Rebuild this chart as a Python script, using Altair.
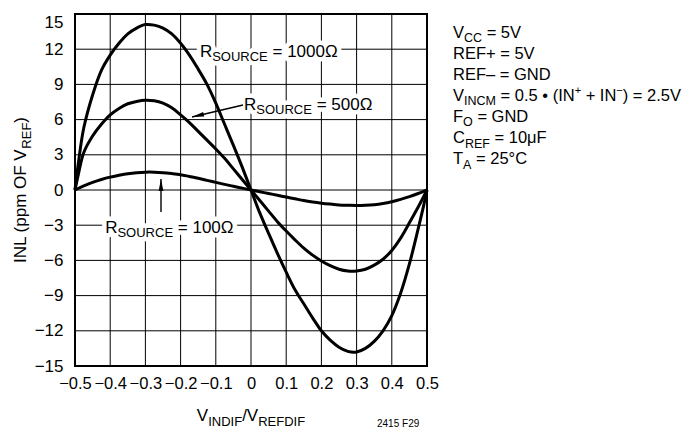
import altair as alt
import pandas as pd

FONT = "Liberation Sans"

# ---------------- data ----------------
x_vals = [-0.5, -0.49, -0.475, -0.45, -0.425, -0.4, -0.375, -0.35, -0.325, -0.3,
          -0.275, -0.25, -0.225, -0.2, -0.175, -0.15, -0.125, -0.1, -0.075, -0.05,
          -0.025, 0.0, 0.025, 0.05, 0.075, 0.1, 0.125, 0.15, 0.175, 0.2, 0.225,
          0.25, 0.275, 0.3, 0.325, 0.35, 0.375, 0.4, 0.425, 0.45, 0.475, 0.49, 0.5]

inl_1000 = [0, 2.4, 5.3, 8.1, 10.2, 11.5, 12.5, 13.3, 13.8, 14.1, 14.05, 13.8, 13.3,
            12.5, 11.5, 10.3, 9.0, 7.4, 5.6, 3.8, 1.95, 0,
            -1.95, -3.7, -5.4, -7.0, -8.5, -9.7, -10.9, -12.0, -12.8, -13.4, -13.75,
            -13.8, -13.5, -12.9, -12.0, -10.7, -8.8, -6.3, -3.3, -1.4, 0]

inl_500 = [0, 1.4, 3.2, 4.6, 5.6, 6.4, 6.95, 7.35, 7.55, 7.65, 7.6, 7.4, 7.0, 6.4,
           5.75, 5.0, 4.25, 3.5, 2.7, 1.8, 0.9, 0,
           -0.9, -1.8, -2.7, -3.5, -4.25, -4.95, -5.55, -6.05, -6.45, -6.75, -6.9,
           -6.9, -6.75, -6.4, -5.9, -5.15, -4.1, -2.8, -1.45, -0.6, 0]

inl_100 = [0, 0.15, 0.35, 0.65, 0.9, 1.1, 1.25, 1.38, 1.47, 1.52, 1.52, 1.48, 1.4,
           1.3, 1.15, 1.0, 0.82, 0.65, 0.48, 0.32, 0.16, 0,
           -0.15, -0.3, -0.45, -0.6, -0.75, -0.9, -1.02, -1.12, -1.2, -1.27, -1.3,
           -1.32, -1.3, -1.25, -1.15, -1.0, -0.8, -0.57, -0.3, -0.12, 0]

series_names = ["1000", "500", "100"]
x_ticks = [-0.5, -0.4, -0.3, -0.2, -0.1, 0, 0.1, 0.2, 0.3, 0.4, 0.5]
y_ticks = [-15, -12, -9, -6, -3, 0, 3, 6, 9, 12, 15]

# text pieces: "n" normal, "b" subscript, "p" superscript
label_1000 = [("R", "n"), ("SOURCE", "b"), (" = 1000Ω", "n")]
label_500 = [("R", "n"), ("SOURCE", "b"), (" = 500Ω", "n")]
label_100 = [("R", "n"), ("SOURCE", "b"), (" = 100Ω", "n")]
cond_lines = [
    [("V", "n"), ("CC", "b"), (" = 5V", "n")],
    [("REF+ = 5V", "n")],
    [("REF– = GND", "n")],
    [("V", "n"), ("INCM", "b"), (" = 0.5 • (IN", "n"), ("+", "p"), (" + IN", "n"),
     ("−", "p"), (") = 2.5V", "n")],
    [("F", "n"), ("O", "b"), (" = GND", "n")],
    [("C", "n"), ("REF", "b"), (" = 10μF", "n")],
    [("T", "n"), ("A", "b"), (" = 25°C", "n")],
]
x_title = [("V", "n"), ("INDIF", "b"), ("/V", "n"), ("REFDIF", "b")]
y_title = [("INL (ppm OF V", "n"), ("REF", "b"), (")", "n")]
fig_id = "2415 F29"

# ---------------- scales / axes (shared by every layer) ----------------
X_SCALE = alt.Scale(domain=[-0.5, 0.5], nice=False, zero=False)
Y_SCALE = alt.Scale(domain=[-15, 15], nice=False, zero=False)
X_AXIS = alt.Axis(values=x_ticks, grid=False, ticks=False, domain=False, title=None,
                  labelFontSize=16.5, labelFont=FONT, labelColor="black",
                  labelPadding=9, labelOverlap=False, labelFlush=False,
                  labelExpr="datum.value == 0 ? '0' : format(datum.value, '.1f')")
Y_AXIS = alt.Axis(values=y_ticks, grid=False, ticks=False, domain=False, title=None,
                  labelFontSize=17, labelFont=FONT, labelColor="black",
                  labelPadding=12, labelOverlap=False, labelFlush=False,
                  labelBaseline={"condition": {"test": "datum.value == 15", "value": "top"},
                                 "value": "middle"})

# ---------------- helpers ----------------
W = {' ': 278, '(': 333, ')': 333, '+': 584, '.': 278, '/': 278, '=': 584, 'A': 667,
     'C': 722, 'D': 722, 'E': 667, 'F': 611, 'G': 778, 'I': 278, 'L': 556, 'M': 833,
     'N': 722, 'O': 778, 'R': 722, 'S': 667, 'T': 611, 'U': 722, 'V': 667, 'm': 833,
     'p': 556, 'μ': 576, 'Ω': 768, '°': 400, '•': 350, '−': 584, '–': 556}


def tw(s, size):
    return sum(W.get(c, 556) for c in s) * size / 1000.0


def layout(parts, size, sub_size, sup_size):
    out, cur = [], 0.0
    for text, kind in parts:
        fs = size if kind == "n" else (sub_size if kind == "b" else sup_size)
        dy = 0 if kind == "n" else (4.5 if kind == "b" else -6.5)
        stripped = text.lstrip(" ")
        cur += (len(text) - len(stripped)) * 278 * fs / 1000.0
        out.append((text.strip(" "), fs, cur, dy))
        cur += tw(stripped, fs)
    return out, cur


def px(v):
    return alt.X(datum=v, scale=X_SCALE, axis=X_AXIS)


def py(v):
    return alt.Y(datum=v, scale=Y_SCALE, axis=Y_AXIS)


def text_group(parts, x, y, size, sub_size, sup_size=11, center=False, angle=0, halo=False):
    items, total = layout(parts, size, sub_size, sup_size)
    shift = -total / 2 if center else 0
    layers = []
    for t, fs, dx, dy in items:
        kw = dict(align="left", baseline="alphabetic", font=FONT, fontSize=fs,
                  dx=round(dx + shift, 2), dy=dy)
        if angle:
            kw["angle"] = angle
        if halo:
            kw.update(color="white", stroke="white", strokeWidth=9, strokeJoin="round")
        else:
            kw.update(color="black")
        layers.append(
            alt.Chart(pd.DataFrame({"t": [t]})).mark_text(**kw).encode(x=x, y=y, text="t:N")
        )
    return layers


# ---------------- curves ----------------
rows = []
for name, vals in zip(series_names, [inl_1000, inl_500, inl_100]):
    for xv, yv in zip(x_vals, vals):
        rows.append({"series": name, "x": xv, "inl": yv})
df = pd.DataFrame(rows)

curves = alt.Chart(df).mark_line(color="black", strokeWidth=3, interpolate="catmull-rom").encode(
    x=alt.X("x:Q", scale=X_SCALE, axis=X_AXIS),
    y=alt.Y("inl:Q", scale=Y_SCALE, axis=Y_AXIS),
    detail="series:N",
)

# ---------------- grid (segments built from the tick lists) ----------------
grid_rows = []
for i, xv in enumerate(x_ticks):
    grid_rows += [{"series": f"gv{i}", "x": xv, "inl": y_ticks[0]},
                  {"series": f"gv{i}", "x": xv, "inl": y_ticks[-1]}]
for i, yv in enumerate(y_ticks):
    grid_rows += [{"series": f"gh{i}", "x": x_ticks[0], "inl": yv},
                  {"series": f"gh{i}", "x": x_ticks[-1], "inl": yv}]
grid = alt.Chart(pd.DataFrame(grid_rows)).mark_line(color="black", strokeWidth=1).encode(
    x=alt.X("x:Q", scale=X_SCALE, axis=X_AXIS),
    y=alt.Y("inl:Q", scale=Y_SCALE, axis=Y_AXIS),
    detail="series:N",
)

# ---------------- annotations ----------------
anchors = [
    (label_1000, 0.051, 11.36),
    (label_500, 0.163, 6.86),
    (label_100, -0.2315, -3.64),
]
halo_layers, label_layers = [], []
for parts, ax, ay in anchors:
    halo_layers += text_group(parts, px(ax), py(ay), 17, 13, center=True, halo=True)
    label_layers += text_group(parts, px(ax), py(ay), 17, 13, center=True)

ARROW = "M0,0L0.4,2L-0.4,2Z"
arrows = [
    # (start x, start y, tip x, tip y, head angle)
    (-0.0227, 7.24, -0.1676, 6.22, 256.8),
    (-0.2557, -1.88, -0.2557, 0.94, 0),
]
arrow_layers = []
for sx, sy, tx, ty, ang in arrows:
    arrow_layers.append(
        alt.Chart(pd.DataFrame({"a": [0]})).mark_rule(color="black", strokeWidth=1.4).encode(
            x=px(sx), y=py(sy), x2=alt.X2(datum=tx), y2=alt.Y2(datum=ty))
    )
    arrow_layers.append(
        alt.Chart(pd.DataFrame({"a": [0]})).mark_point(
            shape=ARROW, filled=True, size=144, angle=ang, color="black", opacity=1,
            strokeWidth=0).encode(x=px(tx), y=py(ty))
    )

outer_layers = []
for i, line in enumerate(cond_lines):
    outer_layers += text_group(line, alt.value(378), alt.value(round(23.5 + 21.1 * i, 1)),
                               16.5, 12.5, 11)
outer_layers += text_group(x_title, alt.value(176), alt.value(407), 17, 13, center=True)
outer_layers += text_group(y_title, alt.value(-49), alt.value(176), 17, 13, center=True, angle=270)
outer_layers += text_group([(fig_id, "n")], alt.value(302), alt.value(413), 10, 8)

chart = alt.layer(
    curves, grid, *halo_layers, *arrow_layers, *label_layers, *outer_layers
).properties(
    width=352, height=352,
    autosize=alt.AutoSizeParams(type="none"),
    padding={"left": 67, "top": 6, "right": 259, "bottom": 62},
).configure_view(stroke="black", strokeWidth=2)

chart.save("out.html", embed_options={"renderer": "svg", "actions": False})
